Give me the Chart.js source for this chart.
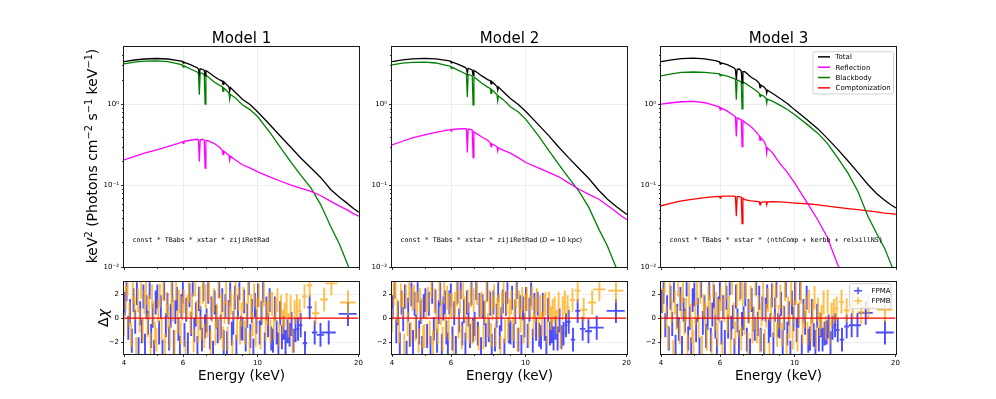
<!DOCTYPE html>
<html>
<head>
<meta charset="utf-8">
<script src="https://cdn.jsdelivr.net/npm/chart.js@4.4.1/dist/chart.umd.min.js"></script>
<style>
  body { margin: 0; width: 996px; height: 399px; background: #fff; position: relative; overflow: hidden; font-family: "DejaVu Sans", sans-serif; }
  canvas { position: absolute; }
  .txt { position: absolute; white-space: pre; color: #000; line-height: 1; }
  .rot { transform: translate(-50%, -50%) rotate(-90deg); }
  .mono { font-family: "DejaVu Sans Mono", monospace; }
  sup { font-size: 70%; vertical-align: 0.55em; line-height: 0; }
</style>
</head>
<body>
<script>
// ---- model curves (keV^2 Photons cm^-2 s^-1 keV^-1) ----
const E_MODEL = [4.0, 4.3, 4.6, 5.0, 5.4, 5.8, 5.97, 6.0, 6.03, 6.3, 6.6, 6.66, 6.70, 6.74, 6.84, 6.93, 6.97, 7.01, 7.1, 7.4,
  7.7, 7.84, 7.88, 7.92, 8.1, 8.21, 8.25, 8.29, 8.6, 9.0, 9.5, 10.0, 10.9, 11.7, 12.5, 13.4, 14.4, 15.4, 16.5, 17.5, 18.5, 19.3, 20.0];

const M1_TOTAL = [3.33, 3.48, 3.58, 3.63, 3.58, 3.42, 3.35, 3.2, 3.28, 3.05, 2.8, 2.7, 2.35, 2.72, 2.68, 2.6, 2.22, 2.58, 2.5, 2.2,
  1.98, 1.92, 1.75, 1.88, 1.72, 1.62, 1.45, 1.6, 1.38, 1.15, 0.98, 0.80, 0.55, 0.40, 0.30, 0.22, 0.164, 0.125, 0.089, 0.072, 0.06, 0.052, 0.047];
const M1_REFL = [0.207, 0.228, 0.25, 0.275, 0.30, 0.33, 0.345, 0.33, 0.35, 0.36, 0.37, 0.365, 0.198, 0.365, 0.37, 0.36, 0.164, 0.355, 0.355, 0.33,
  0.295, 0.27, 0.24, 0.265, 0.245, 0.235, 0.205, 0.23, 0.205, 0.18, 0.164, 0.147, 0.127, 0.113, 0.102, 0.093, 0.085, 0.075, 0.064, 0.056, 0.05, 0.045, 0.042];
const M1_BB = [3.12, 3.28, 3.37, 3.40, 3.33, 3.12, 3.02, 2.85, 2.95, 2.7, 2.48, 2.4, 1.3, 2.42, 2.38, 2.3, 1.0, 2.25, 2.18, 1.88,
  1.7, 1.64, 1.43, 1.58, 1.45, 1.36, 1.15, 1.32, 1.18, 0.98, 0.85, 0.70, 0.44, 0.29, 0.198, 0.135, 0.093, 0.058, 0.031, 0.019, 0.0107, 0.0068, 0.0045];

const M2_TOTAL = [3.33, 3.5, 3.6, 3.65, 3.6, 3.45, 3.38, 3.22, 3.3, 3.08, 2.83, 2.72, 2.4, 2.75, 2.7, 2.62, 2.25, 2.6, 2.52, 2.22,
  2.0, 1.94, 1.78, 1.9, 1.74, 1.64, 1.48, 1.62, 1.4, 1.17, 0.99, 0.81, 0.56, 0.41, 0.30, 0.22, 0.162, 0.122, 0.087, 0.068, 0.056, 0.049, 0.044];
const M2_REFL = [0.316, 0.35, 0.385, 0.42, 0.45, 0.475, 0.485, 0.465, 0.49, 0.495, 0.5, 0.495, 0.255, 0.495, 0.49, 0.48, 0.221, 0.46, 0.44, 0.395,
  0.36, 0.335, 0.3, 0.325, 0.31, 0.3, 0.265, 0.29, 0.27, 0.25, 0.22, 0.192, 0.165, 0.145, 0.129, 0.108, 0.09, 0.078, 0.068, 0.057, 0.048, 0.042, 0.038];
const M2_BB = [3.04, 3.18, 3.25, 3.27, 3.2, 3.0, 2.92, 2.75, 2.85, 2.6, 2.38, 2.3, 1.22, 2.32, 2.28, 2.2, 0.98, 2.15, 2.08, 1.8,
  1.62, 1.56, 1.36, 1.5, 1.38, 1.3, 1.1, 1.26, 1.12, 0.93, 0.8, 0.65, 0.41, 0.27, 0.185, 0.125, 0.085, 0.054, 0.029, 0.018, 0.0102, 0.0065, 0.0043];

const M3_TOTAL = [3.33, 3.5, 3.62, 3.67, 3.6, 3.42, 3.3, 3.1, 3.22, 3.05, 2.78, 2.65, 1.99, 2.68, 2.7, 2.55, 1.81, 2.5, 2.5, 2.15,
  1.95, 1.8, 1.6, 1.72, 1.62, 1.52, 1.36, 1.48, 1.35, 1.19, 1.02, 0.85, 0.64, 0.5, 0.38, 0.28, 0.2, 0.145, 0.103, 0.08, 0.066, 0.058, 0.053];
const M3_REFL = [1.0, 1.04, 1.07, 1.08, 1.04, 0.96, 0.92, 0.85, 0.9, 0.82, 0.72, 0.7, 0.40, 0.68, 0.66, 0.64, 0.30, 0.63, 0.6, 0.53,
  0.45, 0.41, 0.36, 0.39, 0.35, 0.31, 0.25, 0.29, 0.25, 0.19, 0.145, 0.107, 0.061, 0.038, 0.023, 0.0108, 0.0055, 0.0025, 0.001, 0.0004, 0.0002, 0.0001, 0.00006];
const M3_BB = [2.22, 2.35, 2.45, 2.48, 2.45, 2.38, 2.35, 2.22, 2.3, 2.2, 2.06, 2.0, 1.13, 1.98, 1.93, 1.88, 0.875, 1.85, 1.82, 1.62,
  1.45, 1.36, 1.24, 1.3, 1.25, 1.18, 1.03, 1.15, 1.08, 0.98, 0.86, 0.74, 0.56, 0.44, 0.33, 0.22, 0.142, 0.085, 0.042, 0.026, 0.017, 0.011, 0.0075];
const M3_COMP = [0.0565, 0.061, 0.065, 0.068, 0.071, 0.073, 0.0735, 0.070, 0.0735, 0.074, 0.074, 0.073, 0.042, 0.073, 0.073, 0.072, 0.034, 0.07, 0.067, 0.065,
  0.064, 0.063, 0.058, 0.062, 0.063, 0.063, 0.058, 0.063, 0.0635, 0.063, 0.062, 0.061, 0.0598, 0.0578, 0.0558, 0.054, 0.052, 0.0505, 0.049, 0.0475, 0.046, 0.0453, 0.0447];

// ---- residuals (delta chi), bin centres in keV ----
const FPMA_E = [4.02, 4.07, 4.12, 4.17, 4.22, 4.27, 4.32, 4.37, 4.42, 4.47, 4.52, 4.57, 4.62, 4.67, 4.72, 4.77, 4.82, 4.87, 4.92, 4.97,
  5.03, 5.09, 5.15, 5.21, 5.27, 5.33, 5.39, 5.45, 5.51, 5.57, 5.63, 5.69, 5.75, 5.81, 5.87, 5.93, 5.99,
  6.06, 6.13, 6.20, 6.27, 6.34, 6.41, 6.48, 6.55, 6.62, 6.69, 6.76, 6.83, 6.90, 6.97,
  7.05, 7.13, 7.21, 7.29, 7.37, 7.45, 7.53, 7.61, 7.69, 7.77, 7.85, 7.93,
  8.02, 8.11, 8.20, 8.29, 8.38, 8.47, 8.56, 8.65, 8.74, 8.83, 8.92,
  9.02, 9.12, 9.22, 9.32, 9.42, 9.52, 9.62, 9.72, 9.82, 9.92,
  10.03, 10.15, 10.27, 10.39, 10.51, 10.63, 10.75, 10.87, 10.99,
  11.12, 11.26, 11.40, 11.54, 11.68, 11.82, 11.96,
  12.12, 12.29, 12.46, 12.63, 12.80, 12.98,
  13.20, 13.45, 13.85, 14.30, 14.80, 15.40, 16.30, 18.60];
const FPMB_E = [4.00, 4.05, 4.10, 4.15, 4.20, 4.25, 4.30, 4.35, 4.40, 4.45, 4.50, 4.55, 4.60, 4.65, 4.70, 4.75, 4.80, 4.85, 4.90, 4.95,
  5.00, 5.06, 5.12, 5.18, 5.24, 5.30, 5.36, 5.42, 5.48, 5.54, 5.60, 5.66, 5.72, 5.78, 5.84, 5.90, 5.96,
  6.03, 6.10, 6.17, 6.24, 6.31, 6.38, 6.45, 6.52, 6.59, 6.66, 6.73, 6.80, 6.87, 6.94,
  7.01, 7.09, 7.17, 7.25, 7.33, 7.41, 7.49, 7.57, 7.65, 7.73, 7.81, 7.89, 7.97,
  8.06, 8.15, 8.24, 8.33, 8.42, 8.51, 8.60, 8.69, 8.78, 8.87, 8.96,
  9.07, 9.17, 9.27, 9.37, 9.47, 9.57, 9.67, 9.77, 9.87, 9.97,
  10.09, 10.21, 10.33, 10.45, 10.57, 10.69, 10.81, 10.93,
  11.05, 11.19, 11.33, 11.47, 11.61, 11.75, 11.89,
  12.04, 12.21, 12.38, 12.55, 12.72, 12.90,
  13.10, 13.35, 13.80, 14.30, 14.90, 15.80, 16.60, 18.60];

const M1_FPMA = [1.2, 2.4, -0.8, 0.6, -1.9, 1.5, -0.3, 2.1, -2.6, 0.4, -1.1, 1.8, -2.3, 0.9, -0.4, 2.6, -1.5, 0.2, -2.8, 1.3,
  1.8, -1.2, 0.9, -2.8, 2.5, -0.6, 1.1, -1.7, 0.2, 2.3, -2.0, 0.5, 1.6, -0.9, -2.5, 1.0, 2.2,
  -1.4, 0.7, -2.2, 1.9, -0.5, 2.8, -1.0, 0.3, -2.5, 1.6, 0.0, -1.8, 2.4, -0.7,
  -0.2, 2.2, -1.6, 0.8, -2.9, 1.3, 0.1, -1.1, 2.7, -0.7, 1.5, -2.0,
  1.0, -2.1, 0.5, 2.0, -1.3, -0.4, 1.7, -2.4, 0.9, 2.5, -0.8,
  -0.9, 1.4, -1.8, 0.2, 2.9, -1.5, 0.6, -2.7, 1.1, -0.3,
  1.9, -1.2, 0.4, 2.3, -2.2, 0.8, -0.6, 1.5, -1.7,
  -1.9, 0.8, -1.2, -2.2, 0.4, -1.6, -0.8,
  -2.0, -1.1, -1.4, -0.5, -1.9, -1.0,
  -0.9, -0.6, -2.1, 0.9, -1.2, -1.4, -1.2, 0.35];
const M1_FPMB = [-0.5, 1.7, 2.9, 0.3, -1.4, 2.2, 0.8, -2.6, 1.5, -0.2, 2.6, -1.0, 1.3, 2.1, -0.6, 0.9, -2.2, 1.8, 0.4, -1.3,
  -1.8, 0.6, 1.9, -0.9, 2.4, -2.3, 1.2, 0.1, -1.5, 2.0, 0.7, -2.0, 2.5, -0.3, 1.4, -1.2, 0.8,
  1.4, -2.7, 0.9, 2.3, -0.4, 1.1, -1.9, 2.8, 0.5, -1.1, 1.7, -0.8, 2.2, -1.5,
  1.8, -0.6, 2.4, -2.0, 0.7, 1.5, -1.3, 0.2, 2.6, -0.9, 1.1, -1.7, 0.5,
  2.1, -1.7, 0.4, 1.3, -2.8, 0.9, 2.5, -0.8, 1.6, -1.2, 0.3,
  1.6, -1.2, 0.3, 2.2, -2.1, 1.0, -0.5, 1.9, -1.4, 0.7,
  1.9, -1.6, 0.6, 2.0, -0.9, 0.4, 1.2, -1.1,
  1.2, -0.8, 0.7, 1.5, -1.4, 0.9, -0.3,
  0.3, 1.1, -0.6, 0.9, -1.9, 0.5,
  1.0, 0.6, 1.8, 2.75, 0.4, 1.55, 2.9, 1.3];

const M2_FPMA = [0.9, 2.6, -1.1, 0.4, -2.2, 1.3, -0.1, 1.8, -2.9, 0.7, -1.4, 2.0, -2.0, 1.2, -0.7, 2.3, -1.2, 0.5, -2.5, 1.0,
  1.5, -1.5, 1.2, -2.5, 2.2, -0.9, 1.4, -1.9, 0.5, 2.0, -2.3, 0.8, 1.3, -1.2, -2.2, 1.3, 1.9,
  -1.7, 0.4, -2.5, 2.2, -0.2, 2.6, -1.3, 0.6, -2.2, 1.3, 0.3, -1.5, 2.1, -1.0,
  -0.5, 2.5, -1.3, 1.1, -2.6, 1.0, 0.4, -1.4, 2.4, -1.0, 1.2, -2.3,
  1.3, -1.8, 0.2, 2.3, -1.6, -0.1, 1.4, -2.7, 1.2, 2.2, -1.1,
  -1.2, 1.7, -1.5, 0.5, 2.6, -1.8, 0.9, -2.4, 0.8, -0.6,
  1.6, -1.5, 0.7, 2.0, -1.9, 1.1, -0.9, 1.2, -1.4,
  -1.6, 1.1, -0.9, -2.5, 0.7, -1.3, -1.1,
  -1.7, -0.8, -1.7, -0.2, -1.6, -1.3,
  -0.6, -0.3, -1.8, 0.6, -0.9, -1.1, -0.8, 0.6];
const M2_FPMB = [-0.2, 2.0, 2.6, 0.6, -1.1, 1.9, 1.1, -2.3, 1.8, -0.5, 2.3, -1.3, 1.6, 1.8, -0.9, 1.2, -1.9, 1.5, 0.7, -1.6,
  -1.5, 0.9, 1.6, -1.2, 2.7, -2.0, 1.5, -0.2, -1.2, 2.3, 0.4, -1.7, 2.2, -0.6, 1.7, -0.9, 1.1,
  1.1, -2.4, 1.2, 2.0, -0.7, 1.4, -1.6, 2.5, 0.8, -0.8, 1.4, -1.1, 1.9, -1.2,
  1.5, -0.9, 2.1, -1.7, 1.0, 1.2, -1.6, 0.5, 2.3, -0.6, 1.4, -1.4, 0.8,
  1.8, -1.4, 0.7, 1.0, -2.5, 1.2, 2.2, -1.1, 1.3, -0.9, 0.6,
  1.3, -0.9, 0.6, 1.9, -1.8, 1.3, -0.2, 1.6, -1.1, 1.0,
  1.6, -1.3, 0.9, 1.7, -0.6, 0.7, 1.5, -0.8,
  0.9, -0.5, 1.0, 1.2, -1.1, 1.2, 0.0,
  0.6, 0.8, -0.3, 1.2, -1.6, 0.8,
  1.3, 0.9, 1.5, 2.3, 0.7, 1.3, 2.4, 2.3];

const M3_FPMA = [1.4, 2.2, -0.6, 0.9, -1.7, 1.7, -0.5, 2.3, -2.4, 0.2, -0.9, 1.6, -2.5, 0.7, -0.2, 2.8, -1.7, 0.0, -2.6, 1.5,
  2.0, -1.0, 0.7, -2.6, 2.7, -0.4, 0.9, -1.5, 0.0, 2.5, -1.8, 0.3, 1.8, -0.7, -2.7, 0.8, 2.4,
  -1.2, 0.9, -2.0, 1.7, -0.7, 2.9, -0.8, 0.1, -2.7, 1.8, -0.2, -2.0, 2.6, -0.5,
  0.0, 2.0, -1.8, 0.6, -2.7, 1.5, -0.1, -0.9, 2.9, -0.5, 1.7, -1.8,
  0.8, -2.3, 0.7, 1.8, -1.1, -0.6, 1.9, -2.2, 0.7, 2.7, -0.6,
  -0.7, 1.2, -2.0, 0.0, 2.7, -1.3, 0.4, -2.9, 1.3, -0.1,
  2.1, -1.0, 0.2, 2.5, -2.4, 0.6, -0.4, 1.7, -1.9,
  -1.7, 0.6, -1.4, -2.0, 0.2, -1.8, -0.6,
  -1.8, -1.3, -1.2, -0.7, -2.1, -0.8,
  -0.6, -1.0, -1.8, -0.7, -0.6, -0.6, 0.44, -1.2];
const M3_FPMB = [-0.7, 1.5, 3.1, 0.1, -1.6, 2.4, 0.6, -2.8, 1.3, 0.0, 2.8, -1.2, 1.1, 2.3, -0.4, 0.7, -2.4, 2.0, 0.2, -1.1,
  -2.0, 0.4, 2.1, -0.7, 2.2, -2.5, 1.0, 0.3, -1.7, 1.8, 0.9, -2.2, 2.7, -0.1, 1.2, -1.4, 0.6,
  1.6, -2.9, 0.7, 2.5, -0.2, 0.9, -2.1, 3.0, 0.3, -1.3, 1.9, -0.6, 2.4, -1.7,
  2.0, -0.4, 2.6, -2.2, 0.5, 1.7, -1.1, 0.0, 2.8, -1.1, 0.9, -1.9, 0.3,
  2.3, -1.9, 0.2, 1.5, -3.0, 0.7, 2.7, -0.6, 1.8, -1.4, 0.1,
  1.8, -1.4, 0.1, 2.4, -2.3, 0.8, -0.7, 2.1, -1.6, 0.5,
  2.1, -1.8, 0.4, 2.2, -1.1, 0.2, 1.0, -1.3,
  1.4, -1.0, 0.5, 1.7, -1.6, 0.7, -0.5,
  0.1, 1.3, -0.8, 1.36, -1.2, 0.3,
  0.6, 0.8, 1.36, 0.65, 1.1, 0.5, 0.9, 0.7];

// ---- axes ----
const X_TICKS = [4, 6, 10, 20];
const X_MINOR = [5, 7, 8, 9];
const Y_TICKS = [0.01, 0.1, 1];
const Y_TICK_LABELS = ['10\u207B\u00B2', '10\u207B\u00B9', '10\u2070'];
const Y_MINOR = [0.02, 0.03, 0.04, 0.05, 0.06, 0.07, 0.08, 0.09, 0.2, 0.3, 0.4, 0.5, 0.6, 0.7, 0.8, 0.9, 2, 3, 4];
const R_TICKS = [-2, 0, 2];
const R_TICK_LABELS = ['\u22122', '0', '2'];

const TITLES = ['Model 1', 'Model 2', 'Model 3'];
const PANEL_LEFT = [124, 392, 661];
const PANEL_W = 235;
const TOP_Y = 47, TOP_H = 220, RES_Y = 282, RES_H = 72;

const FONT = '"DejaVu Sans", sans-serif';
const BLUE = 'rgba(0, 0, 255, 0.7)';
const ORANGE = 'rgba(255, 165, 0, 0.72)';

function pts(xs, ys) {
  return xs.map((x, i) => ({ x: x, y: ys[i] }));
}

// error bars as broken line segments: +-1 sigma vertical, bin width horizontal
function errBars(E, R) {
  const out = [];
  for (let i = 0; i < E.length; i++) {
    const lo = i > 0 ? E[i - 1] : E[i] - (E[1] - E[0]);
    const hi = i < E.length - 1 ? E[i + 1] : E[i] + (E[i] - E[i - 1]);
    const hw = (hi - lo) / 4;
    out.push({ x: E[i], y: R[i] - 1 }, { x: E[i], y: R[i] + 1 }, { x: E[i], y: null });
    out.push({ x: E[i] - hw, y: R[i] }, { x: E[i] + hw, y: R[i] }, { x: E[i], y: null });
  }
  return out;
}

function drawLegend(ctx, a, lg) {
  const x0 = a.right - lg.right - lg.width;
  const y0 = a.top + lg.top;
  const h = lg.pad * 2 + lg.items.length * lg.rowH;
  ctx.beginPath();
  ctx.roundRect(x0 + 0.5, y0 + 0.5, lg.width, h, 2);
  ctx.fillStyle = 'rgba(255,255,255,0.8)';
  ctx.fill();
  ctx.strokeStyle = '#d0d0d0';
  ctx.lineWidth = 1;
  ctx.stroke();
  ctx.font = '7px ' + FONT;
  ctx.textBaseline = 'middle';
  lg.items.forEach((it, i) => {
    const yc = y0 + lg.pad + lg.rowH * (i + 0.5);
    ctx.strokeStyle = it.color;
    ctx.lineWidth = 1.5;
    ctx.beginPath();
    if (lg.marker === 'err') {
      ctx.moveTo(x0 + 5, yc); ctx.lineTo(x0 + 13, yc);
      ctx.moveTo(x0 + 9, yc - 3.5); ctx.lineTo(x0 + 9, yc + 3.5);
    } else {
      ctx.moveTo(x0 + 5.5, yc); ctx.lineTo(x0 + 17.5, yc);
    }
    ctx.stroke();
    ctx.fillStyle = '#000';
    ctx.fillText(it.label, x0 + lg.textX, yc + 0.5);
  });
}

const panelDecor = {
  id: 'panelDecor',
  afterDraw(chart, args, opts) {
    const { ctx, chartArea: a, scales } = chart;
    ctx.save();
    ctx.strokeStyle = '#000';
    ctx.lineWidth = 0.8;
    ctx.beginPath();
    (opts.xMinor || []).forEach(v => {
      const x = Math.round(scales.x.getPixelForValue(v)) + 0.5;
      ctx.moveTo(x, a.bottom); ctx.lineTo(x, a.bottom + 2);
    });
    (opts.yMinor || []).forEach(v => {
      const y = Math.round(scales.y.getPixelForValue(v)) + 0.5;
      ctx.moveTo(a.left - 2, y); ctx.lineTo(a.left, y);
    });
    ctx.stroke();
    ctx.strokeStyle = '#1a1a1a';
    ctx.lineWidth = 1;
    ctx.strokeRect(Math.round(a.left) - 0.5, Math.round(a.top) - 0.5, Math.round(a.right - a.left) + 1, Math.round(a.bottom - a.top) + 1);
    if (opts.legend) {
      const items = chart.data.datasets.filter(d => d.label).map(d => ({ label: d.label, color: d.borderColor }));
      drawLegend(ctx, a, Object.assign({}, opts.legend, { items: items }));
    }
    ctx.restore();
  }
};

function gridColor(ctx) {
  const v = ctx.tick ? ctx.tick.value : null;
  return (v === 4 || v === 20) ? 'rgba(0,0,0,0)' : '#e8e8e8';
}

function xScale(showLabels, axisH) {
  return {
    type: 'logarithmic', min: 4, max: 20,
    afterBuildTicks: s => { s.ticks = X_TICKS.map(v => ({ value: v })); },
    afterFit: s => { s.height = axisH; },
    ticks: { display: showLabels, color: '#000', padding: 2, font: { family: FONT, size: 7 }, maxRotation: 0, autoSkip: false,
      callback: (v, i) => String(X_TICKS[i]) },
    grid: { color: gridColor, tickColor: '#000', tickLength: 3, lineWidth: 0.8, tickWidth: 0.8 },
    border: { display: false }
  };
}

function addCanvas(left, top, w, h) {
  const c = document.createElement('canvas');
  c.width = w; c.height = h;
  c.style.left = left + 'px'; c.style.top = top + 'px';
  c.style.width = w + 'px'; c.style.height = h + 'px';
  document.body.appendChild(c);
  return c;
}

function addText(html, left, top, size, extra) {
  const d = document.createElement('div');
  d.className = 'txt' + (extra ? ' ' + extra : '');
  d.style.left = left + 'px';
  d.style.top = top + 'px';
  d.style.fontSize = size + 'px';
  d.innerHTML = html;
  document.body.appendChild(d);
  return d;
}

function baseOptions(padTop) {
  return {
    responsive: false, animation: false, devicePixelRatio: 1,
    layout: { padding: { top: padTop, right: 6, left: 0, bottom: 0 } },
    elements: { point: { radius: 0, hoverRadius: 0 }, line: { tension: 0 } },
    events: []
  };
}

function topChart(i, datasets, withLegend) {
  const c = addCanvas(PANEL_LEFT[i] - 40, TOP_Y - 6, 40 + PANEL_W + 6, 6 + TOP_H + 8);
  const opts = baseOptions(6);
  opts.plugins = {
    legend: { display: false }, tooltip: { enabled: false },
    panelDecor: { xMinor: X_MINOR, yMinor: Y_MINOR,
      legend: withLegend ? { right: 3, top: 4, width: 80.5, pad: 0.5, rowH: 10.33, textX: 23 } : null }
  };
  opts.scales = {
    x: xScale(false, 8),
    y: {
      type: 'logarithmic', min: 0.01, max: 5,
      afterBuildTicks: s => { s.ticks = Y_TICKS.map(v => ({ value: v })); },
      afterFit: s => { s.width = 40; },
      ticks: { color: '#000', padding: 2, font: { family: FONT, size: 7 }, callback: (v, k) => Y_TICK_LABELS[k] },
      grid: { color: ctx => (ctx.tick && ctx.tick.value === 0.01) ? 'rgba(0,0,0,0)' : '#e8e8e8', tickColor: '#000', tickLength: 3, lineWidth: 0.8, tickWidth: 0.8 },
      border: { display: false }
    }
  };
  new Chart(c, { type: 'line', data: { datasets: datasets }, options: opts, plugins: [panelDecor] });
}

function resChart(i, resA, resB, withLegend) {
  const c = addCanvas(PANEL_LEFT[i] - 40, RES_Y - 6, 40 + PANEL_W + 6, 6 + RES_H + 16);
  const opts = baseOptions(6);
  opts.plugins = {
    legend: { display: false }, tooltip: { enabled: false },
    panelDecor: { xMinor: X_MINOR,
      legend: withLegend ? { right: 5, top: 1, width: 41.5, pad: 2.5, rowH: 10, textX: 22.5, marker: 'err' } : null }
  };
  opts.scales = {
    x: xScale(true, 16),
    y: {
      type: 'linear', min: -3, max: 3,
      afterBuildTicks: s => { s.ticks = R_TICKS.map(v => ({ value: v })); },
      afterFit: s => { s.width = 40; },
      ticks: { color: '#000', padding: 2, font: { family: FONT, size: 7 }, callback: (v, k) => R_TICK_LABELS[k] },
      grid: { color: '#e8e8e8', tickColor: '#000', tickLength: 3, lineWidth: 0.8, tickWidth: 0.8 },
      border: { display: false }
    }
  };
  const datasets = [
    { data: [{ x: 4, y: 0 }, { x: 20, y: 0 }], borderColor: '#ff0000', borderWidth: 1.4, order: 0 },
    { label: 'FPMA', data: errBars(FPMA_E, resA), borderColor: BLUE, borderWidth: 1.9, spanGaps: false, order: 2 },
    { label: 'FPMB', data: errBars(FPMB_E, resB), borderColor: ORANGE, borderWidth: 1.9, spanGaps: false, order: 1 }
  ];
  new Chart(c, { type: 'line', data: { datasets: datasets }, options: opts, plugins: [panelDecor] });
}

function curve(label, ys, color) {
  return { label: label, data: pts(E_MODEL, ys), borderColor: color, borderWidth: 1.3 };
}

topChart(0, [curve('', M1_TOTAL, '#000000'), curve('', M1_REFL, '#ff00ff'), curve('', M1_BB, '#008000')], false);
topChart(1, [curve('', M2_TOTAL, '#000000'), curve('', M2_REFL, '#ff00ff'), curve('', M2_BB, '#008000')], false);
topChart(2, [curve('Total', M3_TOTAL, '#000000'), curve('Reflection', M3_REFL, '#ff00ff'),
  curve('Blackbody', M3_BB, '#008000'), curve('Comptonization', M3_COMP, '#ff0000')], true);

resChart(0, M1_FPMA, M1_FPMB, false);
resChart(1, M2_FPMA, M2_FPMB, false);
resChart(2, M3_FPMA, M3_FPMB, true);

// ---- texts ----
TITLES.forEach((t, i) => {
  const d = addText(t, PANEL_LEFT[i] + PANEL_W / 2, 31, 15);
  d.style.transform = 'translateX(-50%)';
  const e = addText('Energy (keV)', PANEL_LEFT[i] + PANEL_W / 2, 369, 13.5);
  e.style.transform = 'translateX(-50%)';
});
addText('keV<sup>2</sup> (Photons cm<sup>\u22122</sup> s<sup>\u22121</sup> keV<sup>\u22121</sup>)', 92, 156, 14, 'rot');
addText('\u0394<i>\u03C7</i>', 103, 318, 14, 'rot');

const ANNOT_Y = 236.5;
addText('const * TBabs * xstar * zijiRetRad', PANEL_LEFT[0] + 8.5, ANNOT_Y, 6.7, 'mono');
addText('<span class="mono">const * TBabs * xstar * zijiRetRad</span> (<i>D</i> = 10 kpc)', PANEL_LEFT[1] + 8.5, ANNOT_Y, 6.7);
addText('const * TBabs * xstar * (nthComp + kerbb + relxillNS)', PANEL_LEFT[2] + 8.5, ANNOT_Y, 6.7, 'mono');
</script>
</body>
</html>
